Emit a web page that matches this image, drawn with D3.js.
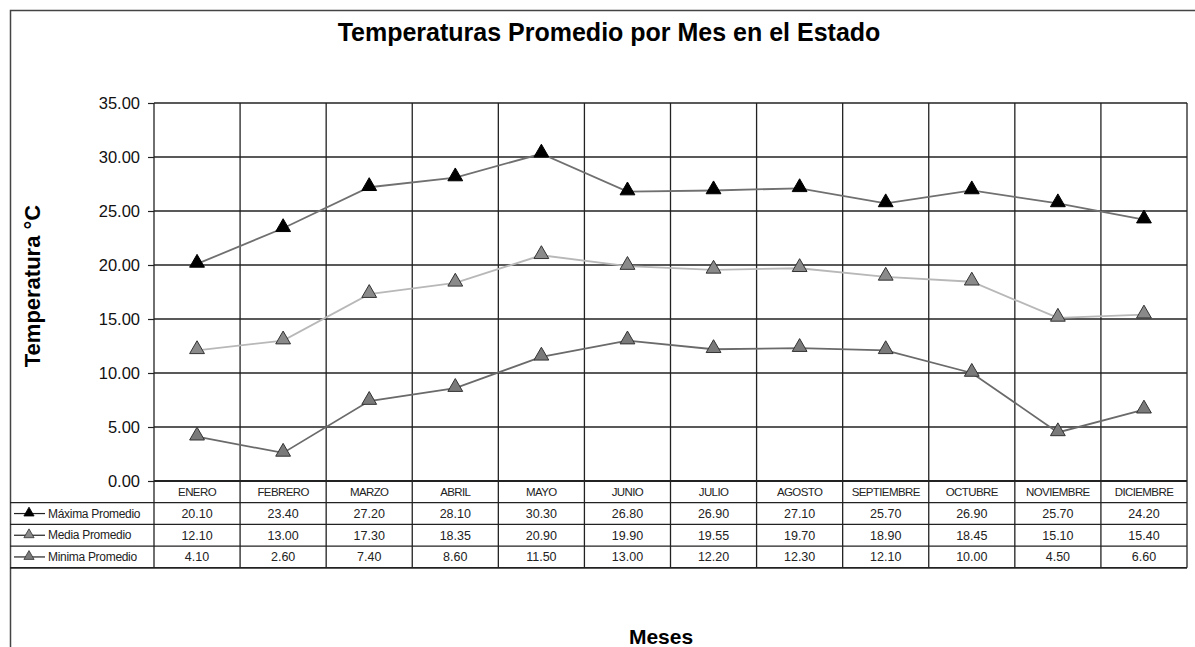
<!DOCTYPE html>
<html>
<head>
<meta charset="utf-8">
<script src="https://cdn.jsdelivr.net/npm/d3@7.9.0/dist/d3.min.js"></script>
<style>
  body { margin: 0; background: #fff; }
  svg { display: block; font-family: "Liberation Sans", Arial, sans-serif; }
</style>
</head>
<body>
<div id="chart"></div>
<script>
// data
const months = ["ENERO", "FEBRERO", "MARZO", "ABRIL", "MAYO", "JUNIO", "JULIO", "AGOSTO", "SEPTIEMBRE", "OCTUBRE", "NOVIEMBRE", "DICIEMBRE"];
const maxima = [20.10, 23.40, 27.20, 28.10, 30.30, 26.80, 26.90, 27.10, 25.70, 26.90, 25.70, 24.20];
const media = [12.10, 13.00, 17.30, 18.35, 20.90, 19.90, 19.55, 19.70, 18.90, 18.45, 15.10, 15.40];
const minima = [4.10, 2.60, 7.40, 8.60, 11.50, 13.00, 12.20, 12.30, 12.10, 10.00, 4.50, 6.60];
const yTicks = [0, 5, 10, 15, 20, 25, 30, 35];

const series = [
    { name: "Máxima Promedio", values: maxima, line: "#707070", fill: "#000", stroke: "#000" },
    { name: "Media Promedio", values: media, line: "#b8b8b8", fill: "#8a8a8a", stroke: "#333" },
    { name: "Minima Promedio", values: minima, line: "#6a6a6a", fill: "#7a7a7a", stroke: "#333" }
];

const width = 1195, height = 647;
const plot = { left: 154, right: 1187, top: 103, bottom: 481 };
const rowH = 21.7;

const svg = d3.select("#chart").append("svg")
    .attr("width", width)
    .attr("height", height);

// outer frame (top and left edges visible)
svg.append("path")
    .attr("d", `M10.5,${height} V10.5 H${width}`)
    .attr("fill", "none")
    .attr("stroke", "#444")
    .attr("stroke-width", 1.5);

// title
svg.append("text")
    .attr("x", 609).attr("y", 41)
    .attr("text-anchor", "middle")
    .attr("font-size", 25).attr("font-weight", "bold")
    .text("Temperaturas Promedio por Mes en el Estado");

const x = d3.scaleBand().domain(months).range([plot.left, plot.right]);
const y = d3.scaleLinear().domain([0, 35]).range([plot.bottom, plot.top]);

// horizontal gridlines
svg.append("g")
    .selectAll("line")
    .data(yTicks)
    .enter().append("line")
    .attr("x1", plot.left).attr("x2", plot.right)
    .attr("y1", d => y(d)).attr("y2", d => y(d))
    .attr("stroke", "#222")
    .attr("stroke-width", d => d === 0 ? 2 : 1.3);

// vertical gridlines, running down through the data table
const lastRow = plot.bottom + rowH * 4;
svg.append("g")
    .selectAll("line")
    .data(months.map(m => x(m)).concat([plot.right]))
    .enter().append("line")
    .attr("x1", d => d).attr("x2", d => d)
    .attr("y1", plot.top).attr("y2", lastRow)
    .attr("stroke", "#222")
    .attr("stroke-width", 1.3);

// y axis
const yAxis = svg.append("g")
    .attr("transform", `translate(${plot.left},0)`)
    .call(d3.axisLeft(y).tickValues(yTicks).tickFormat(d3.format(".2f")).tickSize(6).tickPadding(8));
yAxis.select(".domain").remove();
yAxis.selectAll("line").attr("stroke", "#222").attr("stroke-width", 1.2);
yAxis.selectAll("text")
    .attr("font-size", 16.5)
    .attr("fill", "#111")
    .attr("font-family", "Liberation Sans, Arial, sans-serif");

svg.append("text")
    .attr("transform", "translate(40,286) rotate(-90)")
    .attr("text-anchor", "middle")
    .attr("font-size", 22).attr("font-weight", "bold")
    .text("Temperatura °C");

// lines and markers
const cx = m => x(m) + x.bandwidth() / 2;
const line = d3.line()
    .x((d, i) => cx(months[i]))
    .y(d => y(d));
const tri = d3.symbol().type(d3.symbolTriangle).size(95);

series.forEach(s => {
    svg.append("path")
        .attr("d", line(s.values))
        .attr("fill", "none")
        .attr("stroke", s.line)
        .attr("stroke-width", 1.8);
    svg.append("g")
        .selectAll("path")
        .data(s.values)
        .enter().append("path")
        .attr("d", tri)
        .attr("transform", (d, i) => `translate(${cx(months[i])},${y(d) - 1})`)
        .attr("fill", s.fill)
        .attr("stroke", s.stroke)
        .attr("stroke-width", 1);
});

// data table
const table = svg.append("g");
// row separators
[1, 2, 3, 4].forEach(r => {
    table.append("line")
        .attr("x1", 10).attr("x2", plot.right)
        .attr("y1", plot.bottom + rowH * r).attr("y2", plot.bottom + rowH * r)
        .attr("stroke", "#222")
        .attr("stroke-width", r === 4 ? 1.8 : 1.3);
});

// month header
table.selectAll(".month")
    .data(months)
    .enter().append("text")
    .attr("class", "month")
    .attr("x", d => cx(d))
    .attr("y", plot.bottom + rowH / 2 + 4)
    .attr("text-anchor", "middle")
    .attr("font-size", 11.5)
    .attr("letter-spacing", -0.6)
    .attr("fill", "#222")
    .text(d => d);

series.forEach((s, r) => {
    const rowY = plot.bottom + rowH * (r + 1) + rowH / 2;
    // legend key
    table.append("line")
        .attr("x1", 14).attr("x2", 45)
        .attr("y1", rowY).attr("y2", rowY)
        .attr("stroke", "#222").attr("stroke-width", 1.2);
    table.append("path")
        .attr("d", d3.symbol().type(d3.symbolTriangle).size(45))
        .attr("transform", `translate(29,${rowY - 0.5})`)
        .attr("fill", s.fill)
        .attr("stroke", s.stroke)
        .attr("stroke-width", 0.8);
    table.append("text")
        .attr("x", 48).attr("y", rowY + 4)
        .attr("font-size", 12)
        .attr("letter-spacing", -0.3)
        .attr("fill", "#222")
        .text(s.name);
    table.selectAll(null)
        .data(s.values)
        .enter().append("text")
        .attr("x", (d, i) => cx(months[i]))
        .attr("y", rowY + 4.5)
        .attr("text-anchor", "middle")
        .attr("font-size", 12.5)
        .attr("fill", "#222")
        .text(d => d.toFixed(2));
});

svg.append("text")
    .attr("x", 661).attr("y", 644)
    .attr("text-anchor", "middle")
    .attr("font-size", 21).attr("font-weight", "bold")
    .text("Meses");
</script>
</body>
</html>
